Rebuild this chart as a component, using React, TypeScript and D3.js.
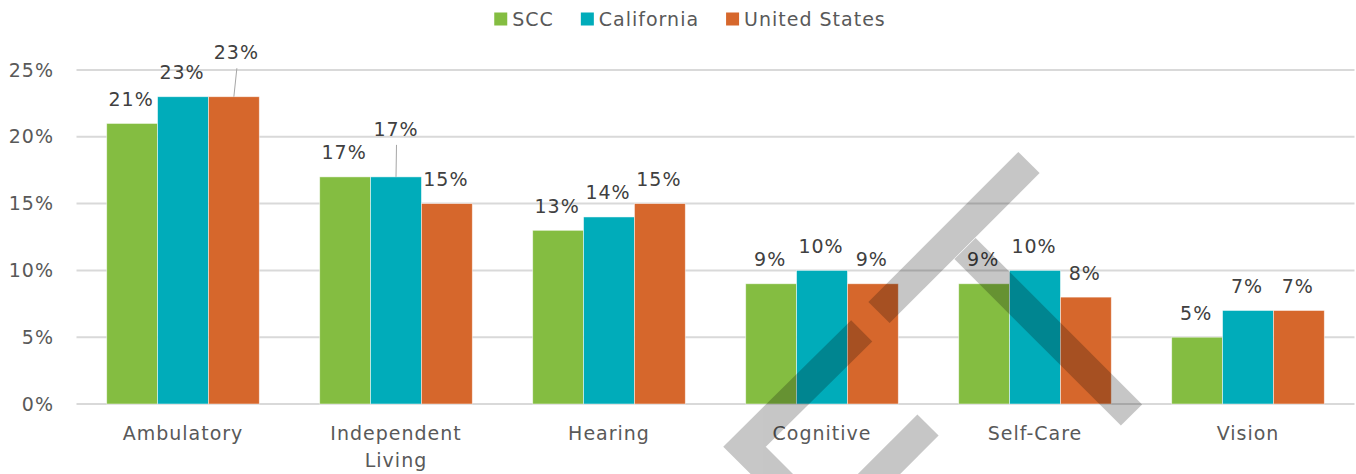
import React, { useEffect, useRef } from "react";
import * as d3 from "d3";

const categories = ["Ambulatory", "Independent Living", "Hearing", "Cognitive", "Self-Care", "Vision"];
const seriesNames = ["SCC", "California", "United States"];
const sccValues = [21, 17, 13, 9, 9, 5];
const californiaValues = [23, 17, 14, 10, 10, 7];
const usValues = [23, 15, 15, 9, 8, 7];
const yTicks = [0, 5, 10, 15, 20, 25];
const seriesColors = ["#84BD41", "#00ACBA", "#D6672C"];

// manually moved data labels (series index, category index) -> offset
const labelMoves = [
  { s: 2, c: 0, dx: 2.5, dy: -20 },
  { s: 1, c: 1, dx: 0, dy: -23.5 },
];

const W = 1356;
const H = 474;
const FONT = "'DejaVu Sans', sans-serif";

export default function App() {
  const ref = useRef<SVGSVGElement | null>(null);

  useEffect(() => {
    const svg = d3.select(ref.current);
    svg.selectAll("*").remove();
    const series = [sccValues, californiaValues, usValues];

    const x0 = d3.scaleBand<string>().domain(categories).range([76.5, 1354.5]).paddingInner(0.2836).paddingOuter(0.1418);
    const x1 = d3.scaleBand<number>().domain([0, 1, 2]).range([0, x0.bandwidth()]);
    const y = d3.scaleLinear().domain([0, 25]).range([404, 70]);

    const textStyle = (sel: any, size = 19) =>
      sel.attr("font-family", FONT).attr("font-size", size).attr("letter-spacing", 1);

    // gridlines
    svg.append("g")
      .selectAll("line")
      .data(yTicks)
      .join("line")
      .attr("x1", 76.5)
      .attr("x2", 1354.5)
      .attr("y1", (d) => y(d))
      .attr("y2", (d) => y(d))
      .attr("stroke", "#D9D9D9")
      .attr("stroke-width", 2);

    // y tick labels
    textStyle(
      svg.append("g")
        .selectAll("text")
        .data(yTicks)
        .join("text")
        .attr("x", 54)
        .attr("y", (d) => y(d) + 6.5)
        .attr("text-anchor", "end")
        .attr("fill", "#595959")
        .text((d) => `${d}%`)
    );

    // bars
    const groups = svg.append("g")
      .selectAll("g")
      .data(categories)
      .join("g")
      .attr("transform", (d) => `translate(${x0(d)},0)`);

    groups.selectAll("rect")
      .data((_d, ci) => series.map((vals, si) => ({ si, v: vals[ci] })))
      .join("rect")
      .attr("x", (d) => x1(d.si)!)
      .attr("width", x1.bandwidth())
      .attr("y", (d) => y(d.v))
      .attr("height", (d) => y(0) - y(d.v))
      .attr("fill", (d) => seriesColors[d.si])
      .attr("stroke", "#ffffff")
      .attr("stroke-opacity", 0.6)
      .attr("stroke-width", 0.8);

    // data labels
    const lab = svg.append("g");
    categories.forEach((c, ci) => {
      series.forEach((vals, si) => {
        const v = vals[ci];
        const cx = x0(c)! + x1(si)! + x1.bandwidth() / 2;
        const top = y(v);
        const mv = labelMoves.find((m) => m.s === si && m.c === ci);
        const tx = cx + (mv ? mv.dx : -1);
        const ty = top - 17.5 + (mv ? mv.dy : 0);
        if (mv) {
          lab.append("line")
            .attr("x1", tx + 0.5)
            .attr("y1", ty + 9)
            .attr("x2", cx)
            .attr("y2", top)
            .attr("stroke", "#A6A6A6")
            .attr("stroke-width", 1);
        }
        textStyle(
          lab.append("text")
            .attr("x", tx)
            .attr("y", ty)
            .attr("text-anchor", "middle")
            .attr("fill", "#404040")
            .text(`${v}%`)
        );
      });
    });

    // category labels
    const cat = svg.append("g");
    categories.forEach((c) => {
      const parts = c.split(" ");
      const t = textStyle(
        cat.append("text")
          .attr("x", x0(c)! + x0.bandwidth() / 2)
          .attr("y", 440)
          .attr("text-anchor", "middle")
          .attr("fill", "#595959")
      );
      parts.forEach((p, i) => {
        t.append("tspan")
          .attr("x", x0(c)! + x0.bandwidth() / 2)
          .attr("dy", i === 0 ? 0 : 26.5)
          .text(p);
      });
    });

    // legend
    const leg = svg.append("g");
    const items = seriesNames.map((name, i) => {
      const g = leg.append("g");
      g.append("rect").attr("width", 13).attr("height", 13).attr("y", 12.5).attr("fill", seriesColors[i]);
      const t = textStyle(g.append("text").attr("x", 18).attr("y", 26).attr("fill", "#595959").text(name));
      const w = (t.node() as SVGTextElement).getComputedTextLength();
      return { g, w: 18 + w };
    });
    const gap = 27;
    const total = items.reduce((a, b) => a + b.w, 0) + gap * (items.length - 1);
    let lx = 690 - total / 2;
    items.forEach((it) => {
      it.g.attr("transform", `translate(${lx},0)`);
      lx += it.w + gap;
    });

    // watermark fragments (decorative overlay)
    const wm = svg.append("g").attr("opacity", 0.22).attr("fill", "none").attr("stroke", "#000").attr("stroke-width", 30);
    const lineGen = d3.line();
    wm.append("path").attr("d", lineGen([[1029, 162.5], [879, 312.5]]));
    wm.append("path").attr("d", lineGen([[965, 248.5], [1131.5, 415]]));
    wm.append("path").attr("stroke-linejoin", "miter").attr("d", lineGen([[861.7, 330.8], [744.5, 446.7], [944.5, 646.7]]));
    wm.append("path").attr("d", lineGen([[928, 425], [825, 528]]));
  }, []);

  return (
    <svg
      ref={ref}
      width={W}
      height={H}
      style={{ position: "absolute", left: 0, top: 0, background: "#fff", display: "block" }}
    />
  );
}
